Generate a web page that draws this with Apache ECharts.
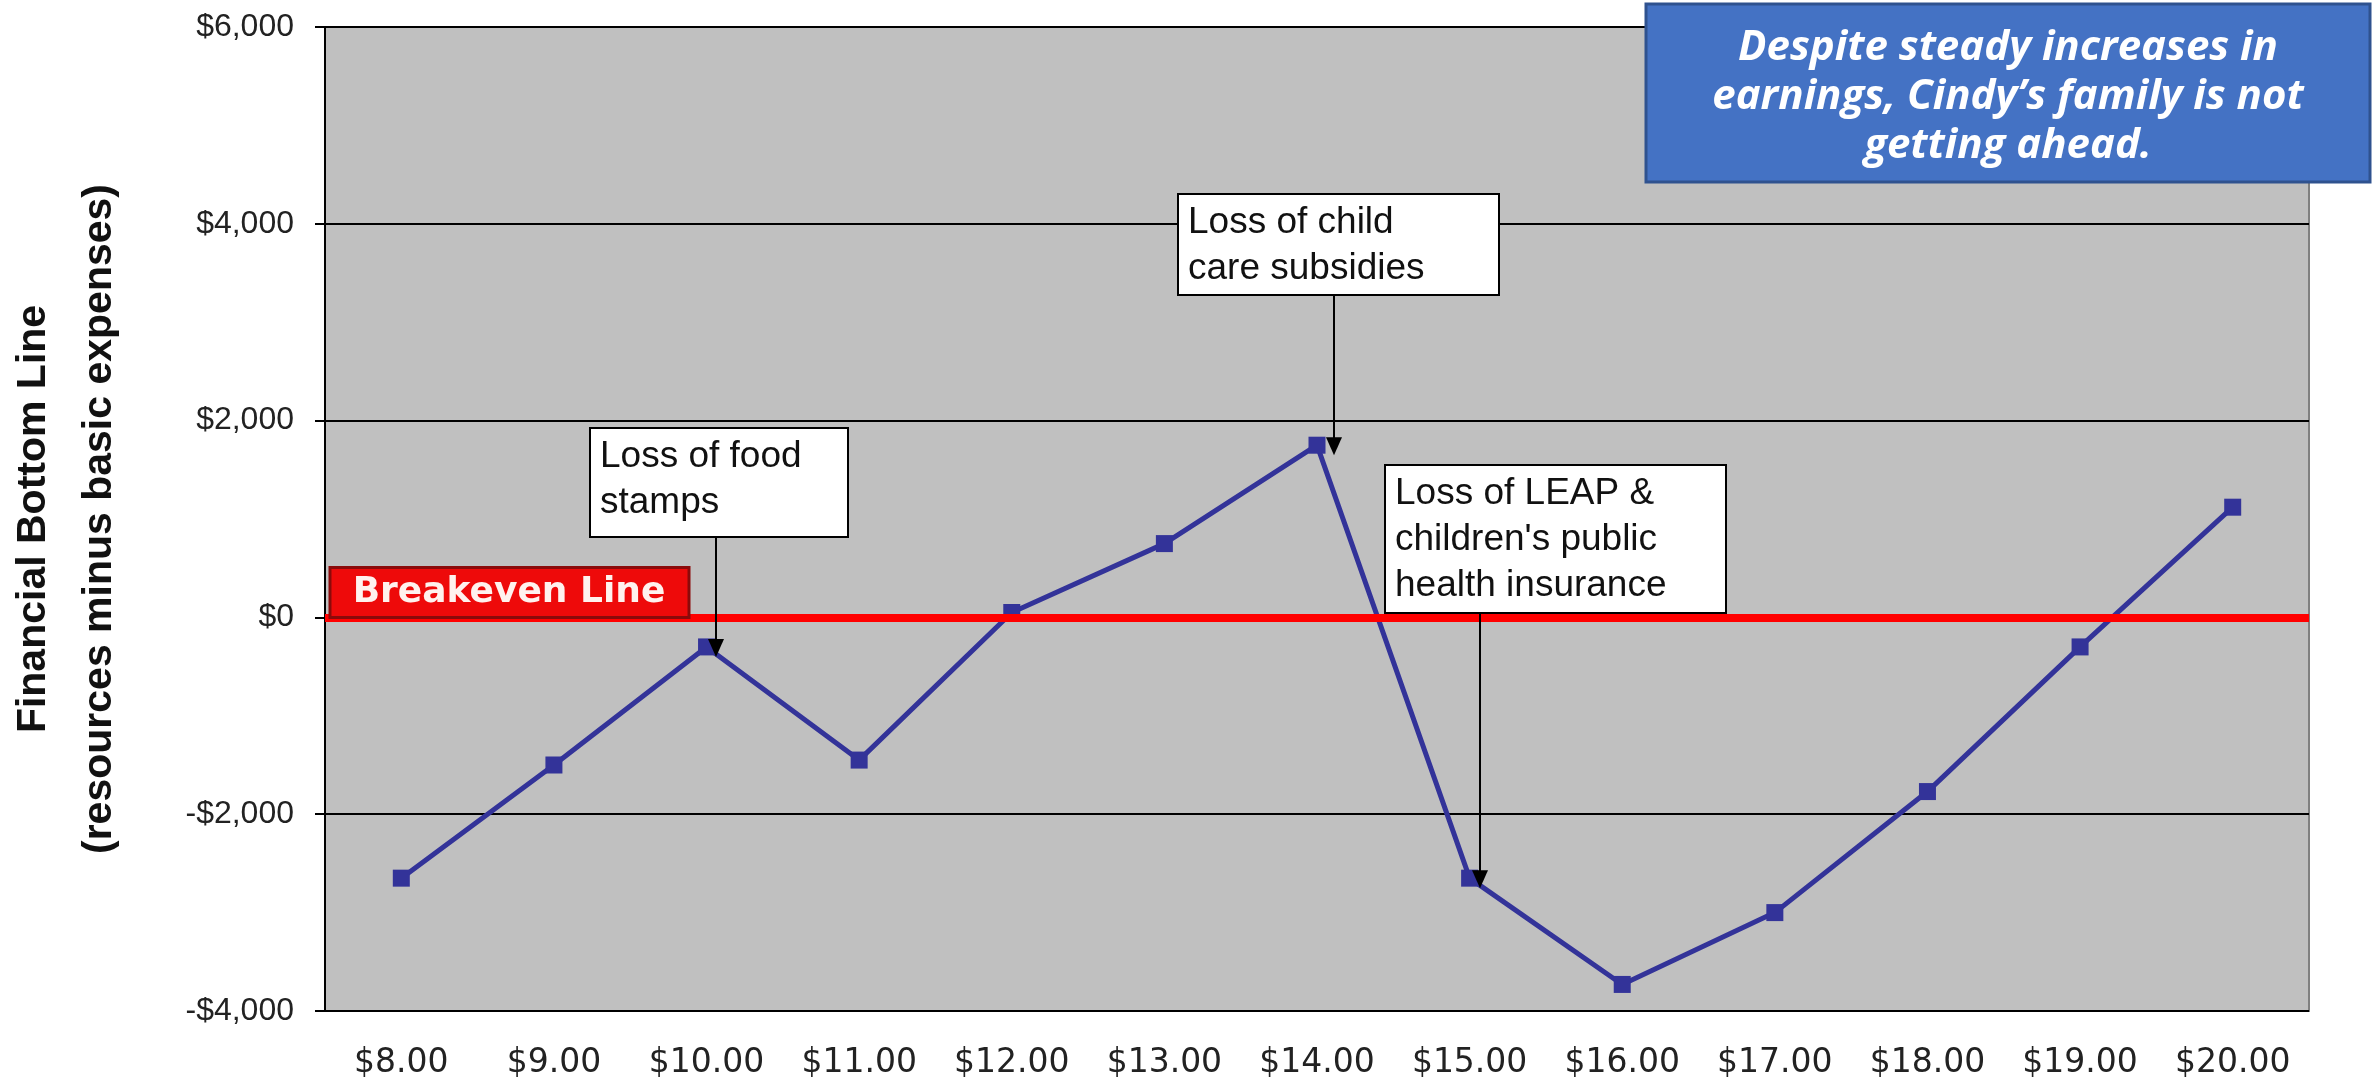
<!DOCTYPE html>
<html><head><meta charset="utf-8">
<script src="https://cdn.jsdelivr.net/npm/echarts@6/dist/echarts.min.js"></script>
<style>html,body{margin:0;padding:0;background:#fff;}#c{width:2374px;height:1081px;}</style>
</head><body><div id="c"></div>
<script>
// ---- data ----
const categories = ['$8.00','$9.00','$10.00','$11.00','$12.00','$13.00','$14.00','$15.00','$16.00','$17.00','$18.00','$19.00','$20.00'];
const bottomLine = [-2650,-1500,-300,-1450,50,750,1750,-2650,-3730,-3000,-1770,-300,1120];
const yMin = -4000, yMax = 6000, yStep = 2000;
const breakevenValue = 0;
const breakevenLabel = 'Breakeven Line';
const yTitle = 'Financial Bottom Line\n(resources minus basic expenses)';
const annotationTexts = ['Loss of food\nstamps', 'Loss of child\ncare subsidies', 'Loss of LEAP &\nchildren\'s public\nhealth insurance'];
const annotationTargets = [2, 6, 7];
const calloutText = 'Despite steady increases in\nearnings, Cindy\u2019s family is not\ngetting ahead.';

function money(v){
  const s = '$' + String(Math.abs(v)).replace(/\B(?=(\d{3})+(?!\d))/g, ',');
  return v < 0 ? '-' + s : s;
}

const chart = echarts.init(document.getElementById('c'), null, {renderer:'canvas'});
const FONT = '"Liberation Sans", Arial, sans-serif';
const PLOT_LEFT = 325;

const option = {
  backgroundColor: '#ffffff',
  animation: false,
  grid: {left: PLOT_LEFT, right: 65, top: 27, bottom: 70, show: true, backgroundColor: '#C0C0C0', borderColor: '#808080', borderWidth: 2, outerBoundsMode: 'none', containLabel: false},
  xAxis: {
    type: 'category', data: categories, boundaryGap: true,
    axisLine: {show: true, lineStyle: {color: '#808080', width: 2}},
    axisTick: {show: false},
    axisLabel: {interval: 0, hideOverlap: false, fontFamily: '"DejaVu Sans", sans-serif', fontSize: 33, lineHeight: 36, color: '#222', margin: 34},
    splitLine: {show: false}
  },
  yAxis: {
    type: 'value', min: yMin, max: yMax, interval: yStep,
    name: yTitle, nameLocation: 'middle', nameRotate: 90, nameGap: 192,
    nameTextStyle: {fontFamily: FONT, fontSize: 41, fontWeight: 'bold', color: '#111', lineHeight: 66, align: 'center'},
    axisLine: {show: true, lineStyle: {color: '#000', width: 2}},
    axisTick: {show: true, length: 10, lineStyle: {color: '#000', width: 2}},
    axisLabel: {fontFamily: FONT, fontSize: 32, color: '#222', margin: 31, formatter: money},
    splitLine: {show: true, lineStyle: {color: '#000', width: 2}}
  },
  series: [
    {
      name: 'Breakeven', type: 'line', data: [], z: 2, silent: true,
      markLine: {
        silent: true, symbol: ['none','none'], animation: false,
        lineStyle: {color: '#FF0000', width: 8, type: 'solid'},
        label: {show: false},
        data: [{yAxis: breakevenValue}]
      }
    },
    {
      name: 'Financial Bottom Line', type: 'line', data: bottomLine, z: 3,
      symbol: 'rect', symbolSize: 17,
      lineStyle: {color: '#333399', width: 5},
      itemStyle: {color: '#333399'}
    }
  ]
};
chart.setOption(option);

function buildGraphics(){
  const g = [];
  const p = (i, v) => chart.convertToPixel({gridIndex: 0}, [i, v]);
  const boxes = [
    {left: 590, top: 428, w: 258, h: 109, dx: 9},
    {left: 1178, top: 194, w: 321, h: 101, dx: 17},
    {left: 1385, top: 465, w: 341, h: 148, dx: 10}
  ];
  boxes.forEach((b, k) => {
    const t = annotationTargets[k];
    const pt = p(t, bottomLine[t]);
    const ax = Math.round(pt[0] + b.dx);
    const tipY = pt[1] + 10;
    g.push({type: 'rect', z: 10, shape: {x: b.left, y: b.top, width: b.w, height: b.h}, style: {fill: '#ffffff', stroke: '#000', lineWidth: 2}});
    g.push({type: 'text', z: 11, style: {x: b.left + 10, y: b.top + 6, text: annotationTexts[k], font: '37px ' + FONT, fill: '#111', lineHeight: 46, textVerticalAlign: 'top', verticalAlign: 'top'}});
    g.push({type: 'line', z: 10, shape: {x1: ax, y1: b.top + b.h, x2: ax, y2: tipY - 14}, style: {stroke: '#000', lineWidth: 2}});
    g.push({type: 'polygon', z: 10, shape: {points: [[ax - 8, tipY - 18], [ax + 8, tipY - 18], [ax, tipY]]}, style: {fill: '#000'}});
  });
  // breakeven label
  const z0 = p(0, breakevenValue);
  g.push({type: 'rect', z: 9, shape: {x: 330, y: z0[1] - 50, width: 359, height: 50}, style: {fill: '#EE0A0A', stroke: '#8B0A0A', lineWidth: 3}});
  g.push({type: 'text', z: 10, style: {x: 330 + 179, y: z0[1] - 25, text: breakevenLabel, font: 'bold 36px "DejaVu Sans", Verdana, sans-serif', fill: '#FFF2EE', textAlign: 'center', align: 'center', textVerticalAlign: 'middle', verticalAlign: 'middle'}});
  // callout
  g.push({type: 'rect', z: 20, shape: {x: 1646, y: 4, width: 724, height: 178}, style: {fill: '#4472C4', stroke: '#2F528F', lineWidth: 3}});
  g.push({type: 'text', z: 21, style: {x: 2008, y: 97, text: calloutText, font: 'italic bold 42px "Open Sans", sans-serif', fill: '#ffffff', lineHeight: 49, textAlign: 'center', align: 'center', textVerticalAlign: 'middle', verticalAlign: 'middle'}});
  chart.setOption({graphic: g});
}
buildGraphics();
</script>
</body></html>
